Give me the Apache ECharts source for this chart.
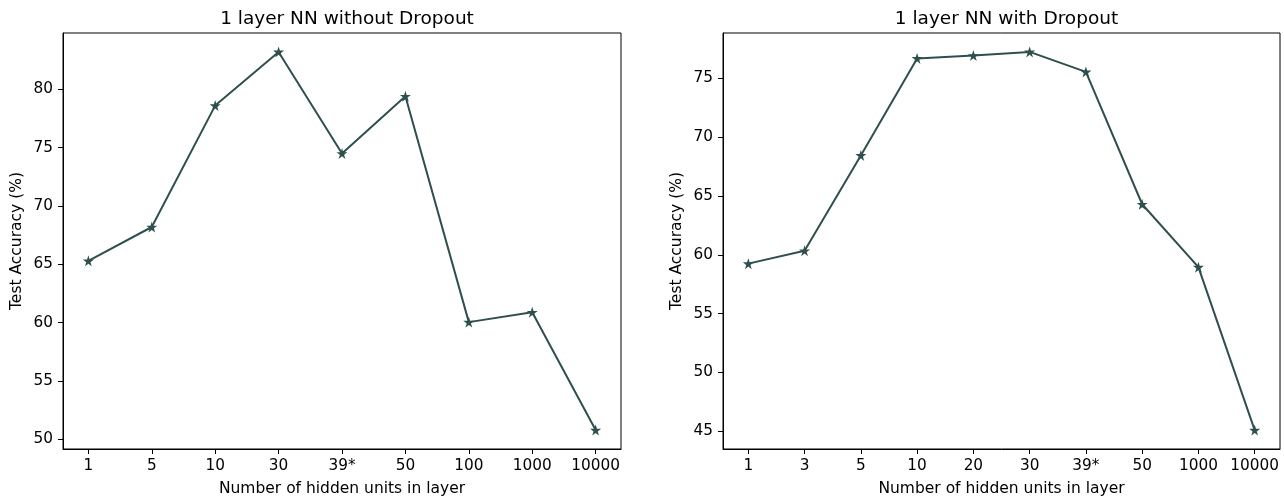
<!DOCTYPE html>
<html><head><meta charset="utf-8">
<script src="https://cdn.jsdelivr.net/npm/echarts@6/dist/echarts.min.js"></script>
<style>html,body{margin:0;padding:0;background:#fff}#c{width:1284px;height:497px}</style>
</head><body><div id="c"></div>
<script>
const catsLeft = ['1','5','10','30','39*','50','100','1000','10000'];
const valsLeft = [65.3, 68.2, 78.6, 83.2, 74.5, 79.4, 60.05, 60.9, 50.8];
const catsRight = ['1','3','5','10','20','30','39*','50','1000','10000'];
const valsRight = [59.25, 60.35, 68.45, 76.7, 76.95, 77.25, 75.55, 64.3, 58.95, 45.1];
const yTicksLeft = [50,55,60,65,70,75,80];
const yTicksRight = [45,50,55,60,65,70,75];
const titles = ['1 layer NN without Dropout','1 layer NN with Dropout'];
const xName = 'Number of hidden units in layer';
const yName = 'Test Accuracy (%)';

const FONT = 'DejaVu Sans';
const LINE = '#2f4f4f';
const STAR = 'path://M50,0 L61.2,34.5 L97.6,34.5 L68.2,55.9 L79.4,90.5 L50,69.1 L20.6,90.5 L31.8,55.9 L2.4,34.5 L38.8,34.5 Z';

function pad(vals){const mn=Math.min(...vals),mx=Math.max(...vals),m=(mx-mn)*0.05;return [mn-m,mx+m];}
function xr(n){const m=(n-1)*0.05;return [-m,n-1+m];}

const chart = echarts.init(document.getElementById('c'), null, {renderer:'canvas'});
const sets = [[catsLeft,valsLeft,yTicksLeft,63,558],[catsRight,valsRight,yTicksRight,723,557]];
const grid=[],xAxis=[],yAxis=[],series=[],title=[];
sets.forEach((s,i)=>{
  const [cats,vals,yt,left,width]=s;
  const [ymin,ymax]=pad(vals); const [xmin,xmax]=xr(cats.length);
  grid.push({left:left,top:33,width:width,height:416,show:true,borderColor:'#000',borderWidth:1,backgroundColor:'transparent',containLabel:false,outerBoundsMode:'none'});
  title.push({text:titles[i],left:left+width/2,top:5,textAlign:'center',textStyle:{fontFamily:FONT,fontSize:18.5,fontWeight:'normal',color:'#000'}});
  const idx=cats.map((c,k)=>k);
  xAxis.push({type:'value',gridIndex:i,min:xmin,max:xmax,splitLine:{show:false},
    axisLine:{show:true,onZero:false,lineStyle:{color:'#000',width:1}},
    axisTick:{show:true,length:5,customValues:idx,lineStyle:{color:'#000'}},
    axisLabel:{customValues:idx,formatter:v=>cats[Math.round(v)],fontFamily:FONT,fontSize:15.3,color:'#000',margin:10},
    name:xName,nameLocation:'middle',nameGap:32,nameTextStyle:{fontFamily:FONT,fontSize:15.5,color:'#000'}});
  yAxis.push({type:'value',gridIndex:i,min:ymin,max:ymax,splitLine:{show:false},
    axisLine:{show:true,onZero:false,lineStyle:{color:'#000',width:1}},
    axisTick:{show:true,length:5,customValues:yt,lineStyle:{color:'#000'}},
    axisLabel:{customValues:yt,fontFamily:FONT,fontSize:15.3,color:'#000',margin:10},
    name:yName,nameLocation:'middle',nameGap:38,nameRotate:90,nameTextStyle:{fontFamily:FONT,fontSize:15.5,color:'#000'}});
  series.push({type:'line',xAxisIndex:i,yAxisIndex:i,data:vals.map((v,k)=>[k,v]),
    lineStyle:{color:LINE,width:2},itemStyle:{color:LINE},symbol:STAR,symbolSize:11,showSymbol:true,animation:false});
});
chart.setOption({animation:false,title,grid,xAxis,yAxis,series});
</script></body></html>
